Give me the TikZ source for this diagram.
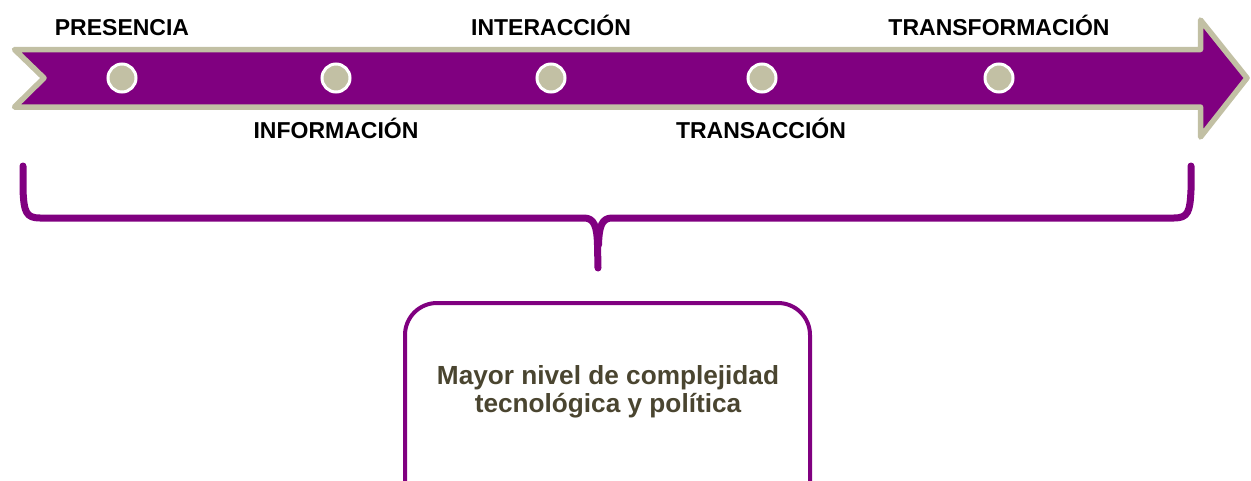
\documentclass[tikz,border=0pt]{standalone}
\usepackage{fontspec}
\setmainfont{Liberation Sans}
\definecolor{pur}{HTML}{800080}
\definecolor{beige}{HTML}{C2C0A4}
\definecolor{olive}{HTML}{4A4530}
\tikzset{
  stage/.style={font=\bfseries\fontsize{23}{26}\selectfont, anchor=base, inner sep=0pt, text=black},
  dot/.style={circle, fill=beige, draw=white, line width=3pt, minimum size=28pt, inner sep=0pt},
  bracel/.style={draw=pur, line width=7pt, line cap=round, line join=round},
}
\begin{document}
\begin{tikzpicture}[x=1pt,y=-1pt]
\useasboundingbox (0,0) rectangle (1251,480);
% arrow
\filldraw[fill=pur, draw=beige, line width=5.5pt, line join=round]
  (14.5,49.5) -- (1200.5,49.5) -- (1200.5,20) -- (1247,78) -- (1200.5,137) -- (1200.5,107)
  -- (14.5,107) -- (44,78) -- cycle;
% dots
\node[dot] (d1) at (122,78) {};
\node[dot] (d2) at (336,78) {};
\node[dot] (d3) at (551,78) {};
\node[dot] (d4) at (762,78) {};
\node[dot] (d5) at (999,78) {};
% labels
\node[stage] (l1) at (122,35) {PRESENCIA};
\node[stage] (l2) at (336,138) {INFORMACIÓN};
\node[stage] (l3) at (551,35) {INTERACCIÓN};
\node[stage] (l4) at (761,138) {TRANSACCIÓN};
\node[stage] (l5) at (999,35) {TRANSFORMACIÓN};
% brace
\coordinate (bl) at (23,166);
\coordinate (br) at (1191,166);
\coordinate (bt) at (598,268);
\draw[bracel] (bl) -- (23,190) .. controls (24,212) and (26,218) .. (40,218) -- (584,218)
  .. controls (594,218) and (597,226) .. (597.5,245) -- (bt);
\draw[bracel] (br) -- (1191,190) .. controls (1190,212) and (1188,218) .. (1174,218) -- (612,218)
  .. controls (602,218) and (599,226) .. (598.5,245);
% box
\draw[pur, line width=4pt, rounded corners=32pt] (405,510) -- (405,303) -- (810,303) -- (810,510);
\node[font=\bfseries\fontsize{26.2}{28}\selectfont, text=olive, align=center, inner sep=0pt] (txt) at (608,392)
  {Mayor nivel de complejidad\\tecnológica y política};
\end{tikzpicture}
\end{document}
